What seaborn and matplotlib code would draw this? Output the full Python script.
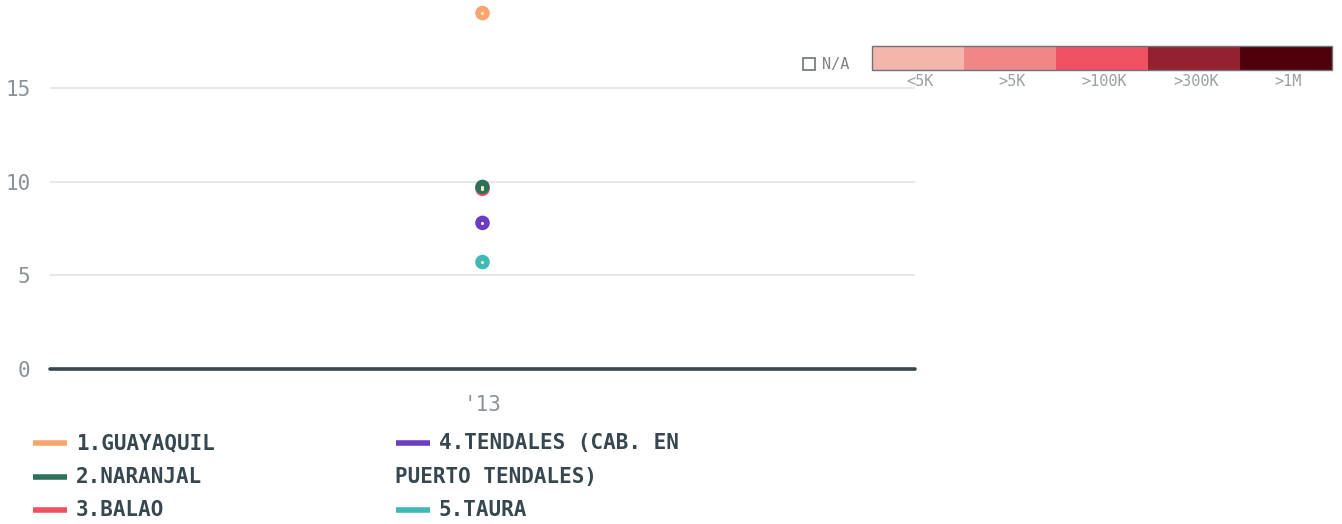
import matplotlib
matplotlib.use("Agg")
import matplotlib.pyplot as plt
import seaborn as sns
import pandas as pd
from matplotlib.lines import Line2D
from matplotlib.patches import Rectangle

series = ["1.GUAYAQUIL", "2.NARANJAL", "3.BALAO", "4.TENDALES (CAB. EN PUERTO TENDALES)", "5.TAURA"]
values = [19.0, 9.72, 9.62, 7.8, 5.71]
years = ["'13"] * 5
colors = ["#fca46d", "#2d7258", "#ef5062", "#6b3cc4", "#3fb8b8"]
scale_labels = ["<5K", ">5K", ">100K", ">300K", ">1M"]
scale_colors = ["#f4b5ab", "#f08686", "#ef5062", "#95212f", "#4e000a"]

sns.set_theme(style="white")
plt.rcParams['font.family'] = ['DejaVu Sans Mono', 'DejaVu Sans']

df = pd.DataFrame({"year": years, "value": values, "series": series})
draw = df.iloc[::-1]

fig = plt.figure(figsize=(13.42, 5.24), dpi=100)
ax = fig.add_axes([50/1342, 1-369/524, 865/1342, 369/524])
sns.scatterplot(data=draw, x="year", y="value", hue="series",
                palette=dict(zip(series, colors)), s=110, edgecolor="none",
                legend=False, ax=ax, clip_on=False, zorder=5)
ax.scatter([0]*5, values, s=1.5, color="#fff3c0", zorder=6, clip_on=False)
ax.set_xlim(-0.5, 0.5)
ax.set_ylim(0, 19.7)
ax.set_yticks([0, 5, 10, 15])
ax.set_xlabel("")
ax.set_ylabel("")
for s in ax.spines.values():
    s.set_visible(False)
for yv in [5, 10, 15]:
    ax.axhline(yv, color="#e8e8e8", lw=1.5, zorder=1)
ax.axhline(0, color="#37474f", lw=2.6, zorder=2, clip_on=False)
ax.tick_params(axis="both", length=0, labelsize=15, labelcolor="#8a9399")
ax.tick_params(axis="y", pad=14)
ax.tick_params(axis="x", pad=19)

# legend
txtc = "#37474f"
def entry(xh, y, color, label):
    fig.add_artist(Line2D([xh/1342, (xh+34)/1342], [1-y/524]*2, color=color, lw=4, solid_capstyle="butt"))
    fig.text((xh+43)/1342, 1-y/524, label, fontsize=15, fontweight="bold", color=txtc, va="center", ha="left")
entry(33, 443, colors[0], "1.GUAYAQUIL")
entry(33, 477, colors[1], "2.NARANJAL")
entry(33, 510, colors[2], "3.BALAO")
entry(396, 443, colors[3], "4.TENDALES (CAB. EN")
fig.text(395/1342, 1-477/524, "PUERTO TENDALES)", fontsize=15, fontweight="bold", color=txtc, va="center", ha="left")
entry(396, 510, colors[4], "5.TAURA")

# color scale
x0, w, yb, h = 872, 92, 70, 24
for i, (lab, c) in enumerate(zip(scale_labels, scale_colors)):
    fig.add_artist(Rectangle(((x0+i*w)/1342, 1-yb/524), w/1342, h/524, transform=fig.transFigure,
                             facecolor=c, edgecolor="none"))
    fig.text((x0+i*w+w/2+2)/1342, 1-82/524, lab, fontsize=11, color="#9aa0a4", ha="center", va="center")
fig.add_artist(Rectangle((x0/1342, 1-yb/524), 5*w/1342, h/524, transform=fig.transFigure,
                         facecolor="none", edgecolor="#6d7478", lw=1))
fig.add_artist(Rectangle((803/1342, 1-70/524), 12/1342, 12/524, transform=fig.transFigure,
                         facecolor="white", edgecolor="#6d7478", lw=1.2))
fig.text(822/1342, 1-64/524, "N/A", fontsize=11, color="#7d8488", ha="left", va="center")

fig.savefig("out.png", dpi=100)
